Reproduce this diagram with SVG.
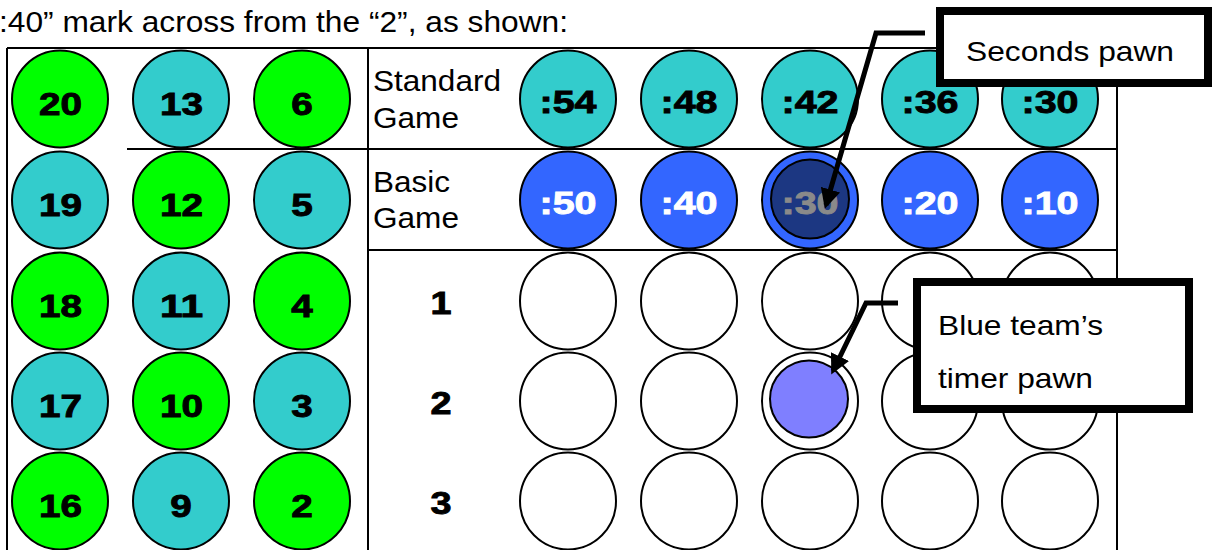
<svg xmlns="http://www.w3.org/2000/svg" width="1215" height="550" viewBox="0 0 1215 550">
<defs>
<style>
.t{font-family:"Liberation Sans",Arial,sans-serif;fill:#000}
.n{font-family:"Liberation Sans",Arial,sans-serif;font-weight:bold;font-size:32px;text-anchor:middle;fill:#000;stroke:#000;stroke-width:0.9}
.nw{fill:#fff;stroke:#fff}
.g{fill:#00FF00;stroke:#000;stroke-width:2}
.c{fill:#33CCCC;stroke:#000;stroke-width:2}
.b{fill:#3366FF;stroke:#000;stroke-width:2}
.w{fill:#fff;stroke:#000;stroke-width:2}
.ln{stroke:#000;stroke-width:2;fill:none}
.box{fill:#fff;stroke:#000;stroke-width:8}
.lbl{font-family:"Liberation Sans",Arial,sans-serif;font-size:28px;fill:#000}
.arr{stroke:#000;stroke-width:5;fill:none}
</style>
<marker id="ah" viewBox="0 0 10 10" refX="8" refY="5" markerWidth="4" markerHeight="4" orient="auto" markerUnits="strokeWidth">
<path d="M0,0 L10,5 L0,10 z" fill="#000"/>
</marker>
</defs>
<rect width="1215" height="550" fill="#fff"/>
<text class="t" x="-1" y="32" font-size="29" textLength="569" lengthAdjust="spacingAndGlyphs">:40” mark across from the “2”, as shown:</text>

<g id="table">
<path class="ln" d="M7,48 H1117 V550 M7,48 V550 M368,48 V550 M127,149 H1117 M368,250 H1117"/>
</g>

<g id="left-grid">
<g id="n20"><ellipse class="g" cx="60" cy="99" rx="48" ry="48.5"/><text class="n" x="60.5" y="115" textLength="43" lengthAdjust="spacingAndGlyphs">20</text></g>
<g id="n13"><ellipse class="c" cx="181" cy="99" rx="48" ry="48.5"/><text class="n" x="181.5" y="115" textLength="43" lengthAdjust="spacingAndGlyphs">13</text></g>
<g id="n6"><ellipse class="g" cx="302" cy="99" rx="48" ry="48.5"/><text class="n" x="302" y="115" textLength="21.5" lengthAdjust="spacingAndGlyphs">6</text></g>
<g id="n19"><ellipse class="c" cx="60" cy="200" rx="48" ry="48.5"/><text class="n" x="60.5" y="216" textLength="43" lengthAdjust="spacingAndGlyphs">19</text></g>
<g id="n12"><ellipse class="g" cx="181" cy="200" rx="48" ry="48.5"/><text class="n" x="181.5" y="216" textLength="43" lengthAdjust="spacingAndGlyphs">12</text></g>
<g id="n5"><ellipse class="c" cx="302" cy="200" rx="48" ry="48.5"/><text class="n" x="302" y="216" textLength="21.5" lengthAdjust="spacingAndGlyphs">5</text></g>
<g id="n18"><ellipse class="g" cx="60" cy="301" rx="48" ry="48.5"/><text class="n" x="60.5" y="317" textLength="43" lengthAdjust="spacingAndGlyphs">18</text></g>
<g id="n11"><ellipse class="c" cx="181" cy="301" rx="48" ry="48.5"/><text class="n" x="181.5" y="317" textLength="43" lengthAdjust="spacingAndGlyphs">11</text></g>
<g id="n4"><ellipse class="g" cx="302" cy="301" rx="48" ry="48.5"/><text class="n" x="302" y="317" textLength="21.5" lengthAdjust="spacingAndGlyphs">4</text></g>
<g id="n17"><ellipse class="c" cx="60" cy="401" rx="48" ry="48.5"/><text class="n" x="60.5" y="417" textLength="43" lengthAdjust="spacingAndGlyphs">17</text></g>
<g id="n10"><ellipse class="g" cx="181" cy="401" rx="48" ry="48.5"/><text class="n" x="181.5" y="417" textLength="43" lengthAdjust="spacingAndGlyphs">10</text></g>
<g id="n3"><ellipse class="c" cx="302" cy="401" rx="48" ry="48.5"/><text class="n" x="302" y="417" textLength="21.5" lengthAdjust="spacingAndGlyphs">3</text></g>
<g id="n16"><ellipse class="g" cx="60" cy="501" rx="48" ry="48.5"/><text class="n" x="60.5" y="517" textLength="43" lengthAdjust="spacingAndGlyphs">16</text></g>
<g id="n9"><ellipse class="c" cx="181" cy="501" rx="48" ry="48.5"/><text class="n" x="181" y="517" textLength="21.5" lengthAdjust="spacingAndGlyphs">9</text></g>
<g id="n2"><ellipse class="g" cx="302" cy="501" rx="48" ry="48.5"/><text class="n" x="302" y="517" textLength="21.5" lengthAdjust="spacingAndGlyphs">2</text></g>
</g>

<g id="row-labels">
<text class="t" x="373" y="91" font-size="30" textLength="128" lengthAdjust="spacingAndGlyphs">Standard</text>
<text class="t" x="373" y="128" font-size="30" textLength="86" lengthAdjust="spacingAndGlyphs">Game</text>
<text class="t" x="373" y="192" font-size="30" textLength="77" lengthAdjust="spacingAndGlyphs">Basic</text>
<text class="t" x="373" y="228" font-size="30" textLength="86" lengthAdjust="spacingAndGlyphs">Game</text>
<text class="n" x="441" y="314" font-size="31" textLength="21" lengthAdjust="spacingAndGlyphs">1</text>
<text class="n" x="441" y="414" font-size="31" textLength="21" lengthAdjust="spacingAndGlyphs">2</text>
<text class="n" x="441" y="514" font-size="31" textLength="21" lengthAdjust="spacingAndGlyphs">3</text>
</g>

<g id="standard-row">
<g id="s54"><ellipse class="c" cx="568" cy="99" rx="48" ry="48.5"/><text class="n" x="568" y="113" textLength="57" lengthAdjust="spacingAndGlyphs">:54</text></g>
<g id="s48"><ellipse class="c" cx="689" cy="99" rx="48" ry="48.5"/><text class="n" x="689" y="113" textLength="57" lengthAdjust="spacingAndGlyphs">:48</text></g>
<g id="s42"><ellipse class="c" cx="810" cy="99" rx="48" ry="48.5"/><text class="n" x="810" y="113" textLength="57" lengthAdjust="spacingAndGlyphs">:42</text></g>
<g id="s36"><ellipse class="c" cx="930" cy="99" rx="48" ry="48.5"/><text class="n" x="930" y="113" textLength="57" lengthAdjust="spacingAndGlyphs">:36</text></g>
<g id="s30"><ellipse class="c" cx="1050" cy="99" rx="48" ry="48.5"/><text class="n" x="1050" y="113" textLength="57" lengthAdjust="spacingAndGlyphs">:30</text></g>
</g>

<g id="basic-row">
<g id="b50"><ellipse class="b" cx="568" cy="200" rx="48" ry="48.5"/><text class="n nw" x="568" y="214" textLength="57" lengthAdjust="spacingAndGlyphs">:50</text></g>
<g id="b40"><ellipse class="b" cx="689" cy="200" rx="48" ry="48.5"/><text class="n nw" x="689" y="214" textLength="57" lengthAdjust="spacingAndGlyphs">:40</text></g>
<g id="b30"><ellipse class="b" cx="810" cy="200" rx="48" ry="48.5"/><ellipse cx="810" cy="199" rx="39" ry="39.5" fill="#1C3782" stroke="#000" stroke-width="2"/><text class="n" x="810" y="214" style="fill:#8A8A8A;stroke:#8A8A8A" textLength="57" lengthAdjust="spacingAndGlyphs">:30</text></g>
<g id="b20"><ellipse class="b" cx="930" cy="200" rx="48" ry="48.5"/><text class="n nw" x="930" y="214" textLength="57" lengthAdjust="spacingAndGlyphs">:20</text></g>
<g id="b10"><ellipse class="b" cx="1050" cy="200" rx="48" ry="48.5"/><text class="n nw" x="1050" y="214" textLength="57" lengthAdjust="spacingAndGlyphs">:10</text></g>
</g>

<g id="timer-grid">
<ellipse class="w" cx="568" cy="301" rx="48" ry="48.5"/>
<ellipse class="w" cx="689" cy="301" rx="48" ry="48.5"/>
<ellipse class="w" cx="810" cy="301" rx="48" ry="48.5"/>
<ellipse class="w" cx="930" cy="301" rx="48" ry="48.5"/>
<ellipse class="w" cx="1050" cy="301" rx="48" ry="48.5"/>
<ellipse class="w" cx="568" cy="401" rx="48" ry="48.5"/>
<ellipse class="w" cx="689" cy="401" rx="48" ry="48.5"/>
<g id="timer-pawn"><ellipse class="w" cx="810" cy="401" rx="48" ry="48.5"/><ellipse cx="809" cy="399" rx="39" ry="38.5" fill="#7F7FFF" stroke="#000" stroke-width="2"/></g>
<ellipse class="w" cx="930" cy="401" rx="48" ry="48.5"/>
<ellipse class="w" cx="1050" cy="401" rx="48" ry="48.5"/>
<ellipse class="w" cx="568" cy="501" rx="48" ry="48.5"/>
<ellipse class="w" cx="689" cy="501" rx="48" ry="48.5"/>
<ellipse class="w" cx="810" cy="501" rx="48" ry="48.5"/>
<ellipse class="w" cx="930" cy="501" rx="48" ry="48.5"/>
<ellipse class="w" cx="1050" cy="501" rx="48" ry="48.5"/>
</g>

<g id="callout-seconds">
<rect class="box" x="940" y="11" width="268" height="72"/>
<text class="lbl" x="966" y="61" textLength="208" lengthAdjust="spacingAndGlyphs">Seconds pawn</text>
</g>
<g id="callout-timer">
<rect class="box" x="917" y="282" width="272" height="127"/>
<text class="lbl" x="938" y="335" textLength="165" lengthAdjust="spacingAndGlyphs">Blue team’s</text>
<text class="lbl" x="938" y="388" textLength="155" lengthAdjust="spacingAndGlyphs">timer pawn</text>
</g>

<g id="connectors">
<polyline class="arr" points="925,33 876,33 826,205" marker-end="url(#ah)"/>
<polyline class="arr" points="898,303 866,303 833,371" marker-end="url(#ah)"/>
</g>
</svg>
